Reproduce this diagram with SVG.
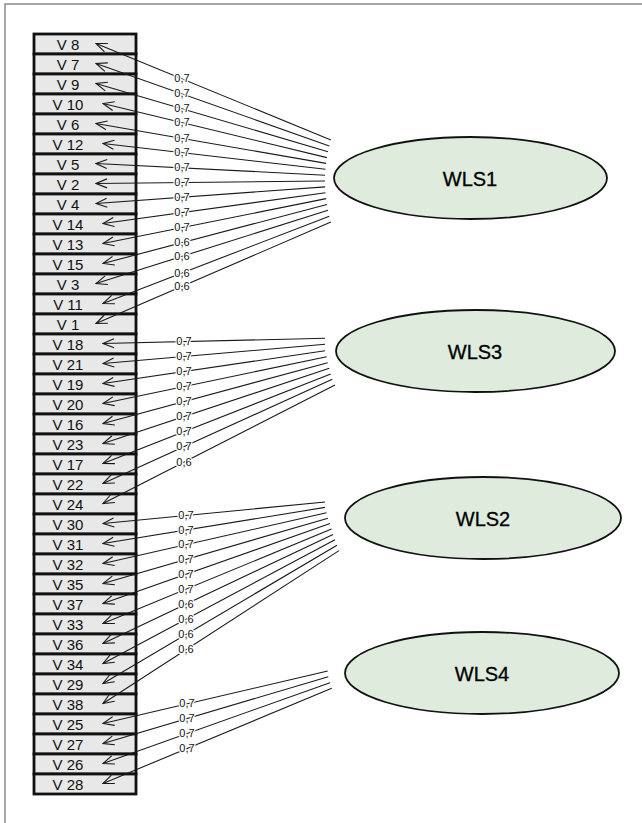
<svg xmlns="http://www.w3.org/2000/svg" width="642" height="823" viewBox="0 0 642 823">
  <style>
    .frame { fill: none; stroke: #8a8a8a; stroke-width: 1.5; }
    .item rect { fill: #e8e8e8; stroke: #111; stroke-width: 2.8; }
    .item text { font-family: "Liberation Sans", Arial, sans-serif; font-size: 15px; fill: #111; text-anchor: middle; }
    .factor ellipse { fill: #deebdd; stroke: #111; stroke-width: 1.8; }
    .factor text { font-family: "Liberation Sans", Arial, sans-serif; font-size: 20px; fill: #000; text-anchor: middle; stroke: #000; stroke-width: 0.3; }
    .edges line { stroke: #1a1a1a; stroke-width: 1.1; marker-start: url(#arrow); }
    .edges text { font-family: "Liberation Sans", Arial, sans-serif; font-size: 11px; fill: #111; text-anchor: middle; stroke: #fff; stroke-width: 2.5; paint-order: stroke; }
  </style>
  <defs>
    <marker id="arrow" viewBox="-1 -6 14 12" refX="0" refY="0" markerWidth="14" markerHeight="12" markerUnits="userSpaceOnUse" orient="auto">
      <path d="M11,-4.5 L0,0 L11,4.5" fill="none" stroke="#1a1a1a" stroke-width="1.1"/>
    </marker>
  </defs>

  <rect width="642" height="823" fill="#fff"/>
  <rect class="frame" x="5" y="4" width="700" height="900"/>

  <!-- indicator column -->
  <g id="V8" class="item"><rect x="34" y="34" width="102" height="20"/><text x="68" y="49.5">V 8</text></g>
  <g id="V7" class="item"><rect x="34" y="54" width="102" height="20"/><text x="68" y="69.5">V 7</text></g>
  <g id="V9" class="item"><rect x="34" y="74" width="102" height="20"/><text x="68" y="89.5">V 9</text></g>
  <g id="V10" class="item"><rect x="34" y="94" width="102" height="20"/><text x="68" y="109.5">V 10</text></g>
  <g id="V6" class="item"><rect x="34" y="114" width="102" height="20"/><text x="68" y="129.5">V 6</text></g>
  <g id="V12" class="item"><rect x="34" y="134" width="102" height="20"/><text x="68" y="149.5">V 12</text></g>
  <g id="V5" class="item"><rect x="34" y="154" width="102" height="20"/><text x="68" y="169.5">V 5</text></g>
  <g id="V2" class="item"><rect x="34" y="174" width="102" height="20"/><text x="68" y="189.5">V 2</text></g>
  <g id="V4" class="item"><rect x="34" y="194" width="102" height="20"/><text x="68" y="209.5">V 4</text></g>
  <g id="V14" class="item"><rect x="34" y="214" width="102" height="20"/><text x="68" y="229.5">V 14</text></g>
  <g id="V13" class="item"><rect x="34" y="234" width="102" height="20"/><text x="68" y="249.5">V 13</text></g>
  <g id="V15" class="item"><rect x="34" y="254" width="102" height="20"/><text x="68" y="269.5">V 15</text></g>
  <g id="V3" class="item"><rect x="34" y="274" width="102" height="20"/><text x="68" y="289.5">V 3</text></g>
  <g id="V11" class="item"><rect x="34" y="294" width="102" height="20"/><text x="68" y="309.5">V 11</text></g>
  <g id="V1" class="item"><rect x="34" y="314" width="102" height="20"/><text x="68" y="329.5">V 1</text></g>
  <g id="V18" class="item"><rect x="34" y="334" width="102" height="20"/><text x="68" y="349.5">V 18</text></g>
  <g id="V21" class="item"><rect x="34" y="354" width="102" height="20"/><text x="68" y="369.5">V 21</text></g>
  <g id="V19" class="item"><rect x="34" y="374" width="102" height="20"/><text x="68" y="389.5">V 19</text></g>
  <g id="V20" class="item"><rect x="34" y="394" width="102" height="20"/><text x="68" y="409.5">V 20</text></g>
  <g id="V16" class="item"><rect x="34" y="414" width="102" height="20"/><text x="68" y="429.5">V 16</text></g>
  <g id="V23" class="item"><rect x="34" y="434" width="102" height="20"/><text x="68" y="449.5">V 23</text></g>
  <g id="V17" class="item"><rect x="34" y="454" width="102" height="20"/><text x="68" y="469.5">V 17</text></g>
  <g id="V22" class="item"><rect x="34" y="474" width="102" height="20"/><text x="68" y="489.5">V 22</text></g>
  <g id="V24" class="item"><rect x="34" y="494" width="102" height="20"/><text x="68" y="509.5">V 24</text></g>
  <g id="V30" class="item"><rect x="34" y="514" width="102" height="20"/><text x="68" y="529.5">V 30</text></g>
  <g id="V31" class="item"><rect x="34" y="534" width="102" height="20"/><text x="68" y="549.5">V 31</text></g>
  <g id="V32" class="item"><rect x="34" y="554" width="102" height="20"/><text x="68" y="569.5">V 32</text></g>
  <g id="V35" class="item"><rect x="34" y="574" width="102" height="20"/><text x="68" y="589.5">V 35</text></g>
  <g id="V37" class="item"><rect x="34" y="594" width="102" height="20"/><text x="68" y="609.5">V 37</text></g>
  <g id="V33" class="item"><rect x="34" y="614" width="102" height="20"/><text x="68" y="629.5">V 33</text></g>
  <g id="V36" class="item"><rect x="34" y="634" width="102" height="20"/><text x="68" y="649.5">V 36</text></g>
  <g id="V34" class="item"><rect x="34" y="654" width="102" height="20"/><text x="68" y="669.5">V 34</text></g>
  <g id="V29" class="item"><rect x="34" y="674" width="102" height="20"/><text x="68" y="689.5">V 29</text></g>
  <g id="V38" class="item"><rect x="34" y="694" width="102" height="20"/><text x="68" y="709.5">V 38</text></g>
  <g id="V25" class="item"><rect x="34" y="714" width="102" height="20"/><text x="68" y="729.5">V 25</text></g>
  <g id="V27" class="item"><rect x="34" y="734" width="102" height="20"/><text x="68" y="749.5">V 27</text></g>
  <g id="V26" class="item"><rect x="34" y="754" width="102" height="20"/><text x="68" y="769.5">V 26</text></g>
  <g id="V28" class="item"><rect x="34" y="774" width="102" height="20"/><text x="68" y="789.5">V 28</text></g>

  <!-- latent factors -->
  <g id="WLS1" class="factor"><ellipse cx="470.5" cy="178" rx="136.5" ry="41"/><text x="470" y="185.5">WLS1</text></g>
  <g id="WLS3" class="factor"><ellipse cx="475.5" cy="351" rx="139.5" ry="41"/><text x="475" y="358.5">WLS3</text></g>
  <g id="WLS2" class="factor"><ellipse cx="483" cy="518" rx="138" ry="41"/><text x="483" y="525.5">WLS2</text></g>
  <g id="WLS4" class="factor"><ellipse cx="482" cy="673" rx="137" ry="41"/><text x="482" y="680.5">WLS4</text></g>

  <!-- loadings: each line runs from the indicator (arrow tip) out toward its factor -->
  <g id="edges" class="edges">
    <!-- WLS1 -->
    <line x1="96" y1="43.5" x2="330.9" y2="140"/>
    <line x1="96" y1="63.5" x2="329.3" y2="145.9"/>
    <line x1="96" y1="83.5" x2="328" y2="151.7"/>
    <line x1="103" y1="103.5" x2="326.9" y2="157.6"/>
    <line x1="96" y1="123.5" x2="326.1" y2="163.4"/>
    <line x1="103" y1="143.5" x2="325.5" y2="169.3"/>
    <line x1="96" y1="163.5" x2="325.1" y2="175.2"/>
    <line x1="96" y1="183.5" x2="325" y2="181"/>
    <line x1="96" y1="203.5" x2="325.1" y2="186.9"/>
    <line x1="103" y1="223.5" x2="325.5" y2="192.7"/>
    <line x1="103" y1="243.5" x2="326.1" y2="198.6"/>
    <line x1="103" y1="263.5" x2="326.9" y2="204.5"/>
    <line x1="96" y1="283.5" x2="328" y2="210.3"/>
    <line x1="103" y1="303.5" x2="329.3" y2="216.2"/>
    <line x1="96" y1="323.5" x2="330.9" y2="222"/>
    <!-- WLS3 -->
    <line x1="103" y1="343.5" x2="325" y2="338.3"/>
    <line x1="103" y1="363.5" x2="325" y2="344.3"/>
    <line x1="103" y1="383.5" x2="325" y2="350.7"/>
    <line x1="103" y1="403.5" x2="326.7" y2="356.7"/>
    <line x1="103" y1="423.5" x2="327.7" y2="362.7"/>
    <line x1="103" y1="443.5" x2="329.3" y2="368.3"/>
    <line x1="103" y1="463.5" x2="330.7" y2="374"/>
    <line x1="103" y1="483.5" x2="332.3" y2="379.3"/>
    <line x1="103" y1="503.5" x2="335" y2="385"/>
    <!-- WLS2 -->
    <line x1="103" y1="523.5" x2="325" y2="502"/>
    <line x1="103" y1="543.5" x2="325" y2="507.4"/>
    <line x1="103" y1="563.5" x2="326.5" y2="512.8"/>
    <line x1="103" y1="583.5" x2="328" y2="518.2"/>
    <line x1="103" y1="603.5" x2="330" y2="523.6"/>
    <line x1="103" y1="623.5" x2="331.5" y2="529"/>
    <line x1="103" y1="643.5" x2="333" y2="534.4"/>
    <line x1="103" y1="663.5" x2="335" y2="539.8"/>
    <line x1="103" y1="683.5" x2="337" y2="545.2"/>
    <line x1="103" y1="703.5" x2="339" y2="550.6"/>
    <!-- WLS4 -->
    <line x1="103" y1="723.5" x2="327.7" y2="671"/>
    <line x1="103" y1="743.5" x2="328.3" y2="676.7"/>
    <line x1="103" y1="763.5" x2="330" y2="682.7"/>
    <line x1="103" y1="783.5" x2="331.7" y2="688.3"/>

    <!-- loading values -->
    <text x="182" y="82.3">0,7</text>
    <text x="182" y="97.4">0,7</text>
    <text x="182" y="112.3">0,7</text>
    <text x="182" y="126.1">0,7</text>
    <text x="182" y="141.9">0,7</text>
    <text x="182" y="156.2">0,7</text>
    <text x="182" y="171.4">0,7</text>
    <text x="182" y="186.1">0,7</text>
    <text x="182" y="200.8">0,7</text>
    <text x="182" y="216.1">0,7</text>
    <text x="182" y="231.1">0,7</text>
    <text x="182" y="246.2">0,6</text>
    <text x="182" y="259.9">0,6</text>
    <text x="182" y="276.5">0,6</text>
    <text x="182" y="289.8">0,6</text>

    <text x="184" y="345.1">0,7</text>
    <text x="184" y="360">0,7</text>
    <text x="184" y="375">0,7</text>
    <text x="184" y="390.1">0,7</text>
    <text x="184" y="405.1">0,7</text>
    <text x="184" y="420.1">0,7</text>
    <text x="184" y="435.2">0,7</text>
    <text x="184" y="450.2">0,7</text>
    <text x="184" y="465.6">0,6</text>

    <text x="186" y="519">0,7</text>
    <text x="186" y="533.5">0,7</text>
    <text x="186" y="548.2">0,7</text>
    <text x="186" y="562.9">0,7</text>
    <text x="186" y="577.8">0,7</text>
    <text x="186" y="592.7">0,7</text>
    <text x="186" y="607.6">0,6</text>
    <text x="186" y="622.7">0,6</text>
    <text x="186" y="637.9">0,6</text>
    <text x="186" y="653.2">0,6</text>

    <text x="187" y="707.4">0,7</text>
    <text x="187" y="722.1">0,7</text>
    <text x="187" y="737.1">0,7</text>
    <text x="187" y="752">0,7</text>
  </g>
</svg>
